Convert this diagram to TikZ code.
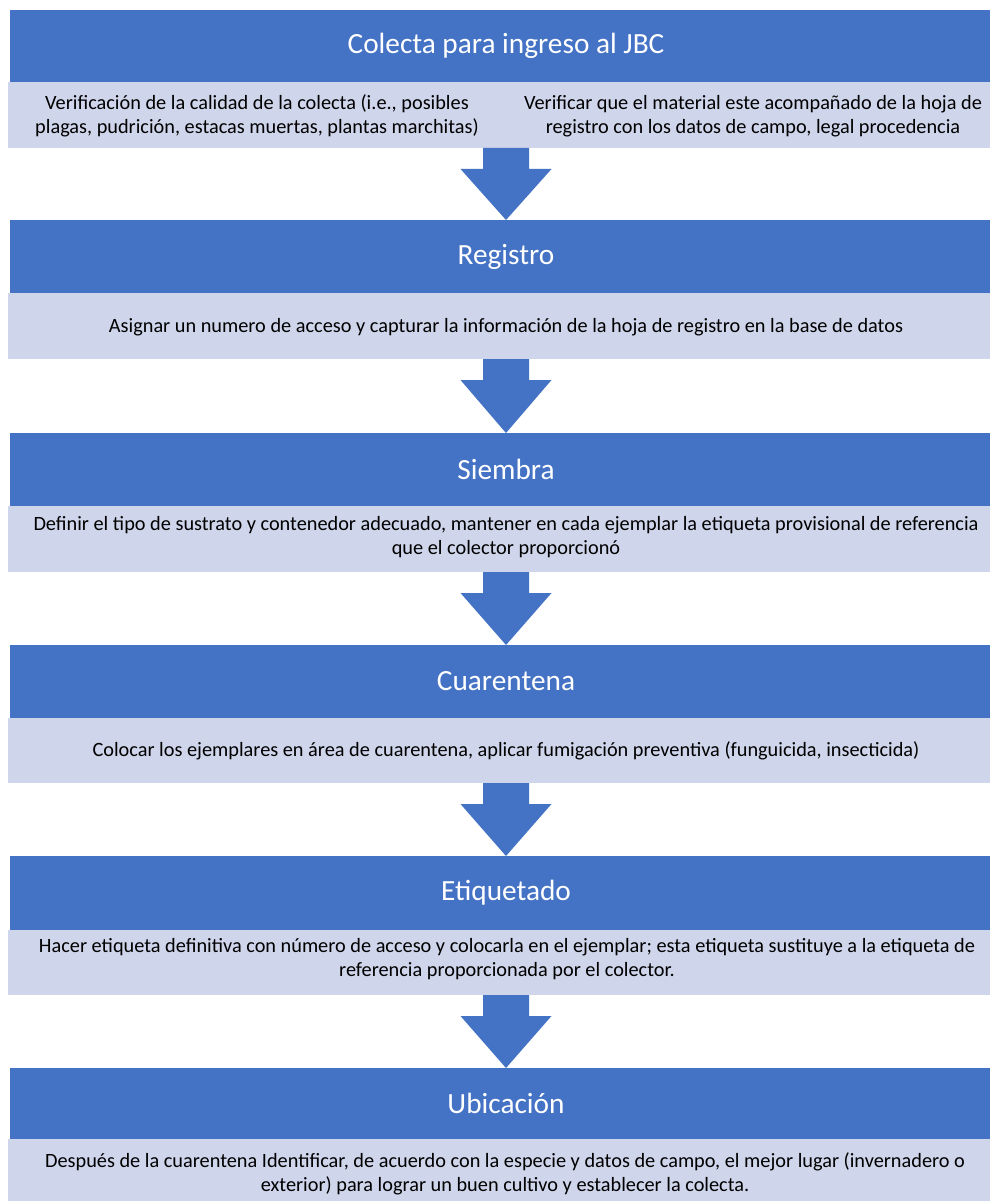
\documentclass[tikz,border=0pt]{standalone}
\usepackage{fontspec}
\setmainfont{Carlito}
\usetikzlibrary{calc}
\definecolor{hdrblue}{HTML}{4472C4}
\definecolor{bodylight}{HTML}{CFD5EA}
\begin{document}
\begin{tikzpicture}[x=1pt,y=-1pt,
  hdr/.style={rectangle, fill=hdrblue, draw=none, inner sep=0pt, outer sep=0pt,
    anchor=north west, minimum width=980.5pt},
  bodybox/.style={rectangle, fill=bodylight, draw=none, inner sep=0pt, outer sep=0pt,
    anchor=north west, minimum width=982pt, minimum height=66pt},
  bodytxt/.style={inner sep=0pt, align=center, text=black,
    font=\fontsize{20.3}{24}\selectfont},
  hdrtxt/.style={inner sep=0pt, text=white, font=\fontsize{29.3}{36}\selectfont},
  flowarrow/.style={fill=hdrblue, draw=none}
]
\useasboundingbox (0,0) rectangle (990,1201);
\fill[white] (0,0) rectangle (990,1201);
\coordinate (cx) at (506,0);

% boxes
\node[hdr, minimum height=72pt] (h1) at (9.5,10) {};
\node[bodybox] (b1) at (8,82) {};
\node[hdr, minimum height=73pt] (h2) at (9.5,220) {};
\node[bodybox] (b2) at (8,293) {};
\node[hdr, minimum height=73pt] (h3) at (9.5,433) {};
\node[bodybox] (b3) at (8,506) {};
\node[hdr, minimum height=73pt] (h4) at (9.5,645) {};
\node[bodybox, minimum height=65pt] (b4) at (8,718) {};
\node[hdr, minimum height=74pt] (h5) at (9.5,856) {};
\node[bodybox, minimum height=65pt] (b5) at (8,930) {};
\node[hdr, minimum height=71pt] (h6) at (9.5,1068) {};
\node[bodybox, minimum height=62pt] (b6) at (8,1139) {};

% header texts
\node[hdrtxt] (ht1) at (h1.center -| cx) {Colecta para ingreso al JBC};
\node[hdrtxt] (ht2) at (h2.center -| cx) {Registro};
\node[hdrtxt] (ht3) at (h3.center -| cx) {Siembra};
\node[hdrtxt] (ht4) at (h4.center -| cx) {Cuarentena};
\node[hdrtxt] (ht5) at (h5.center -| cx) {Etiquetado};
\node[hdrtxt] (ht6) at (h6.center -| cx) {Ubicación};

% body texts
\node[bodytxt] (bt1a) at (257,116) {Verificación de la calidad de la colecta (i.e., posibles\\plagas, pudrición, estacas muertas, plantas marchitas)};
\node[bodytxt] (bt1b) at (753,116) {Verificar que el material este acompañado de la hoja de\\registro con los datos de campo, legal procedencia};
\node[bodytxt] (bt2) at (506,327) {Asignar un numero de acceso y capturar la información de la hoja de registro en la base de datos};
\node[bodytxt] (bt3) at (506,537) {Definir el tipo de sustrato y contenedor adecuado, mantener en cada ejemplar la etiqueta provisional de referencia\\que el colector proporcionó};
\node[bodytxt] (bt4) at (506,751) {Colocar los ejemplares en área de cuarentena, aplicar fumigación preventiva (funguicida, insecticida)};
\node[bodytxt] (bt5) at (507,959) {Hacer etiqueta definitiva con número de acceso y colocarla en el ejemplar; esta etiqueta sustituye a la etiqueta de\\referencia proporcionada por el colector.};
\node[bodytxt] (bt6) at (505,1174) {Después de la cuarentena Identificar, de acuerdo con la especie y datos de campo, el mejor lugar (invernadero o\\exterior) para lograr un buen cultivo y establecer la colecta.};

% arrows between boxes
\foreach \a/\b in {b1/h2, b2/h3, b3/h4, b4/h5, b5/h6}{
  \fill[flowarrow] ($(\a.south -| cx)+(-23,0)$) -- ($(\a.south -| cx)+(23,0)$)
    -- ($(\a.south -| cx)+(23,21)$) -- ($(\a.south -| cx)+(45.5,21)$)
    -- (\b.north -| cx)
    -- ($(\a.south -| cx)+(-45.5,21)$) -- ($(\a.south -| cx)+(-23,21)$) -- cycle;
}
\end{tikzpicture}
\end{document}
